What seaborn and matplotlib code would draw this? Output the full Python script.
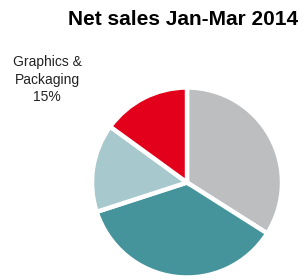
import matplotlib
matplotlib.use("Agg")
import matplotlib.pyplot as plt
import seaborn as sns

sns.set_theme(style="white")
plt.rcParams['font.family'] = ['Liberation Sans', 'DejaVu Sans']

segments = ["Other A", "Other B", "Other C", "Graphics & Packaging"]
shares = [34, 36, 15, 15]
colors = ["#BDBEC0", "#45949C", "#A7C8CC", "#E2001A"]
title = "Net sales Jan-Mar 2014"
label_text = "Graphics &\nPackaging\n15%"

fig = plt.figure(figsize=(3.07, 2.80), dpi=100)
fig.patch.set_facecolor("white")
cx, cy, r = 187.0, 182.5, 95.0
W, H = 307.0, 280.0
ax = fig.add_axes([(cx - r) / W, (H - cy - r) / H, 2 * r / W, 2 * r / H])
ax.pie(shares, colors=colors, startangle=90, counterclock=False,
       wedgeprops=dict(edgecolor="white", linewidth=3.2))
ax.set_xlim(-1.0, 1.0)
ax.set_ylim(-1.0, 1.0)
ax.set_aspect("equal")
ax.axis("off")

fig.text(0.595, 0.932, title, ha="center", va="center", fontsize=15,
         fontweight="bold", color="black")
fig.text(0.153, 0.716, label_text, ha="center", va="center", fontsize=10,
         color="#222222", linespacing=1.3)

fig.savefig("out.png", dpi=100)
